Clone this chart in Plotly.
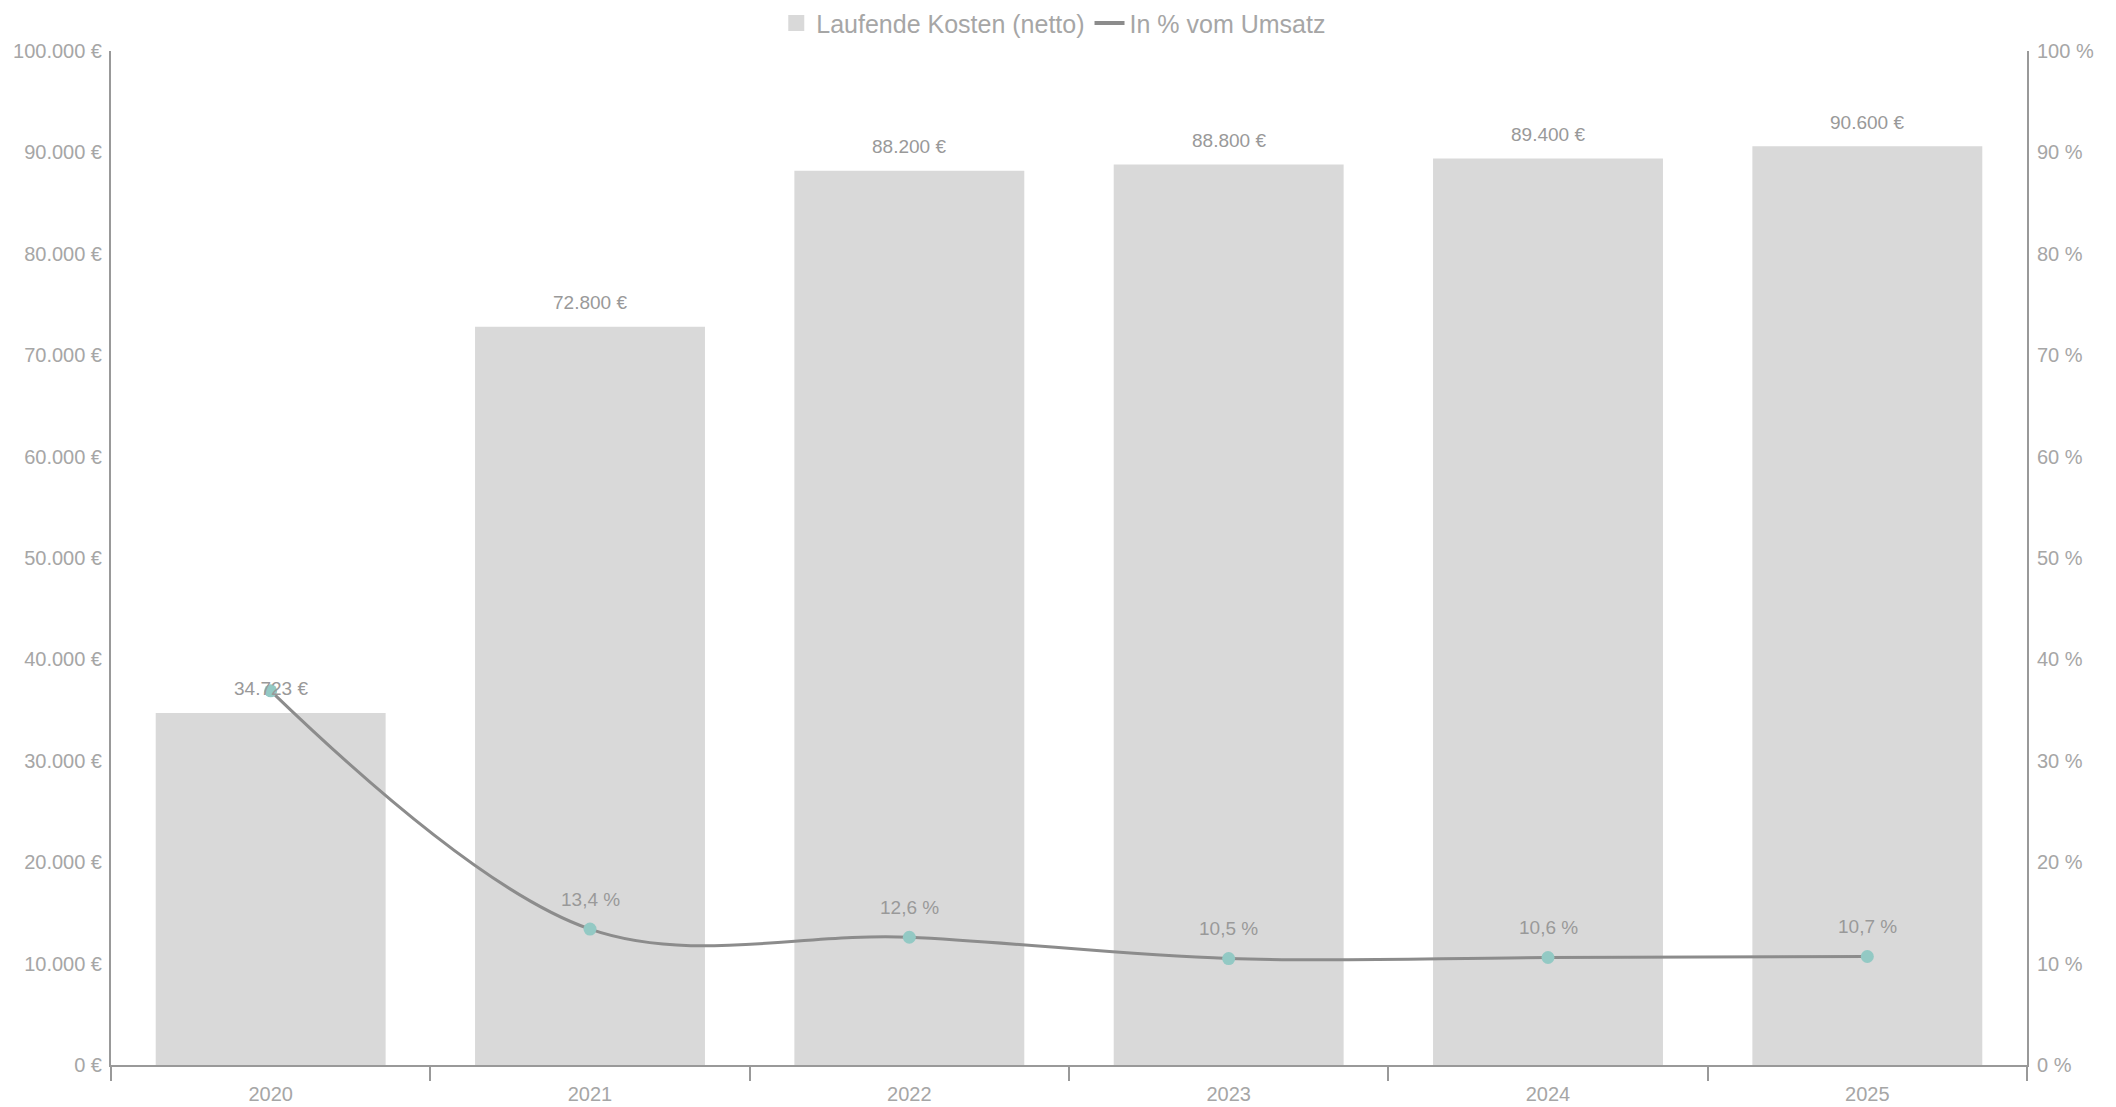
import plotly.graph_objects as go

years = ["2020", "2021", "2022", "2023", "2024", "2025"]
kosten = [34723, 72800, 88200, 88800, 89400, 90600]
prozent = [36.9, 13.4, 12.6, 10.5, 10.6, 10.7]
show_pct_label = [False, True, True, True, True, True]

FONT = "Liberation Sans, Arial, sans-serif"
TXT = "#a6a6a6"
LBL = "#999999"

def eur(v):
    return f"{v:,.0f}".replace(",", ".") + " €"

def pct(v):
    return f"{v:.1f}".replace(".", ",") + " %"

fig = go.Figure()
fig.add_trace(go.Bar(
    x=years, y=kosten, name="Laufende Kosten (netto)",
    marker=dict(color="#d9d9d9", line=dict(width=0)),
    showlegend=False, yaxis="y",
))
fig.add_trace(go.Scatter(
    x=years, y=prozent, name="In % vom Umsatz", yaxis="y2",
    mode="lines+markers",
    line=dict(color="#8c8c8c", width=3, shape="spline", smoothing=1),
    marker=dict(color="#93c9c4", size=13, line=dict(width=0)),
    showlegend=False, cliponaxis=False,
))
# legend entries
fig.add_trace(go.Scatter(
    x=[None], y=[None], mode="markers", name="Laufende Kosten (netto)",
    marker=dict(symbol="square", color="#d9d9d9", size=16, line=dict(width=0)),
))
fig.add_trace(go.Scatter(
    x=[None], y=[None], mode="lines", name="In % vom Umsatz",
    line=dict(color="#8c8c8c", width=4),
))

for i, v in enumerate(kosten):
    fig.add_annotation(x=i, y=v, xref="x", yref="y", text=eur(v), showarrow=False,
                       yanchor="middle", yshift=24,
                       font=dict(family=FONT, size=19, color=LBL))
for i, (v, s) in enumerate(zip(prozent, show_pct_label)):
    if s:
        fig.add_annotation(x=i, y=v, xref="x", yref="y2", text=pct(v), showarrow=False,
                           yanchor="middle", yshift=30,
                           font=dict(family=FONT, size=19, color=LBL))

fig.update_layout(
    width=2116, height=1107,
    margin=dict(l=111, r=89, t=51, b=42, autoexpand=False),
    paper_bgcolor="white", plot_bgcolor="white",
    separators=",.",
    bargap=0.28,
    font=dict(family=FONT, size=20, color=TXT),
    showlegend=True,
    legend=dict(orientation="h", xref="container", x=0.498, xanchor="center",
                yref="container", y=0.979, yanchor="middle",
                font=dict(family=FONT, size=25, color=TXT),
                itemwidth=30, tracegroupgap=0, bgcolor="rgba(0,0,0,0)"),
    xaxis=dict(
        type="category", range=[-0.5, 5.5], automargin=False,
        showline=True, linecolor="#999999", linewidth=2,
        ticks="outside", tickson="boundaries", ticklen=14, tickcolor="#999999", tickwidth=2,
        ticklabelstandoff=10,
        showgrid=False, tickfont=dict(family=FONT, size=20, color=TXT),
    ),
    yaxis=dict(
        range=[0, 100000], dtick=10000, tickformat=",.0f", ticksuffix=" €",
        showline=True, linecolor="#999999", linewidth=2, automargin=False,
        showgrid=False, zeroline=False, ticks="", ticklabelstandoff=3,
        tickfont=dict(family=FONT, size=20, color=TXT),
    ),
    yaxis2=dict(
        range=[0, 100], dtick=10, ticksuffix=" %", overlaying="y", side="right",
        showline=True, linecolor="#999999", linewidth=2, automargin=False,
        showgrid=False, zeroline=False, ticks="", ticklabelstandoff=4,
        tickfont=dict(family=FONT, size=20, color=TXT),
    ),
)

fig.write_html("out.html", config={"displayModeBar": False},
               post_script="document.body.style.margin='0';document.body.style.overflow='hidden';")
